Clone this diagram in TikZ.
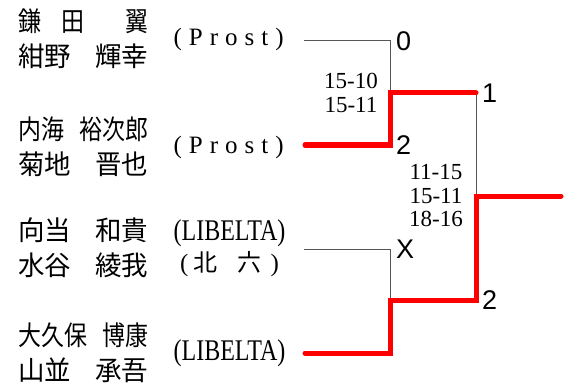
\documentclass[tikz,border=0pt]{standalone}
\usepackage{fontspec}
\setmainfont{Liberation Serif}
\newfontfamily\cjk{Noto Sans CJK JP}
\newfontfamily\marksf{Liberation Sans}
\usepackage{graphicx}
\usetikzlibrary{positioning}
\definecolor{lineGray}{RGB}{85,85,85}
\definecolor{winRed}{RGB}{255,0,0}
\newcommand{\namerow}[2]{\hbox to 130pt{#1\hfill #2}}
\newcommand{\squeezed}[1]{\scalebox{0.85}[1]{#1}}
\newcommand{\widened}[1]{\scalebox{0.98}[1]{#1}}
\newcommand{\condensed}[1]{\scalebox{0.8}[1]{\fontsize{30}{30}\selectfont #1}}

\begin{document}
\begin{tikzpicture}[x=1pt, y=-1pt,
        names/.style={anchor=west, inner sep=0pt, align=left, font=\cjk\fontsize{27}{35}\selectfont},
        club/.style={inner sep=0pt, align=center, font=\fontsize{25}{31}\selectfont},
        score/.style={inner sep=0pt, align=center, font=\fontsize{23}{23.5}\selectfont},
        result/.style={inner sep=0pt, font=\marksf\fontsize{27}{27}\selectfont},
        loser/.style={draw=lineGray, line width=1pt},
        winner/.style={draw=winRed, line width=5pt, line cap=round}
    ]
        \useasboundingbox (0,0) rectangle (570,385);

        % Teams
        \node[names] (n1) at (18,39) {\hbox to 130pt{\squeezed{鎌}\hfil \squeezed{田}\hfil\hfil \squeezed{翼}}\\\namerow{\widened{紺野}}{\widened{輝幸}}};
        \node[names] (n2) at (18,147) {\namerow{\squeezed{内海}}{\squeezed{裕次郎}}\\\namerow{\widened{菊地}}{\widened{晋也}}};
        \node[names] (n3) at (18,248) {\namerow{\widened{向当}}{\widened{和貴}}\\\namerow{\widened{水谷}}{\widened{綾我}}};
        \node[names] (n4) at (18,353) {\namerow{\squeezed{大久保}}{\squeezed{博康}}\\\namerow{\widened{山並}}{\widened{承吾}}};

        % Clubs
        \node[club, right=25pt of n1] (k1) {\addfontfeature{LetterSpace=28}(Prost)};
        \node[club, right=25pt of n2] (k2) {\addfontfeature{LetterSpace=28}(Prost)};
        \node[club, right=25pt of n3] (k3) {\condensed{(LIBELTA)}\\(\hspace{5pt}{\cjk\fontsize{24}{24}\selectfont 北\hspace{20pt}六}\hspace{9pt})};
        \node[club, right=25pt of n4] (k4) {\condensed{(LIBELTA)}};

        % Bracket points
        \coordinate (t1) at (304,41);
        \coordinate (t2) at (305,145);
        \coordinate (t3) at (304,249);
        \coordinate (t4) at (305,353);
        \coordinate (m1) at (390,93);
        \coordinate (m2) at (390,300);
        \coordinate (f) at (476,196);
        \coordinate (w) at (561,196);
        \coordinate (c1) at (t1 -| m1);
        \coordinate (c2) at (t2 -| m1);
        \coordinate (c3) at (t3 -| m2);
        \coordinate (s1) at (m1 -| f);
        \coordinate (s2) at (m2 -| f);

        % Lines
        \draw[loser] (t1) -| (m1);
        \draw[loser] (t3) -| (m2);
        \draw[loser] (s1) -- (f);
        \draw[winner] (t2) -| (m1) -- (s1);
        \draw[winner] (t4) -| (m2) -| (f) -- (w);

        % Results
        \node[result, right=6pt of c1] (r1) {0};
        \node[result, right=6pt of c2] (r2) {2};
        \node[result, right=6pt of c3] (r3) {X};
        \node[result, right=6pt of s1] (r4) {1};
        \node[result, right=6pt of s2] (r5) {2};

        % Scores
        \node[score, left=12pt of m1] (sc1) {15-10\\15-11};
        \node[score, left=13pt of f] (sc2) {11-15\\15-11\\18-16};
\end{tikzpicture}
\end{document}
